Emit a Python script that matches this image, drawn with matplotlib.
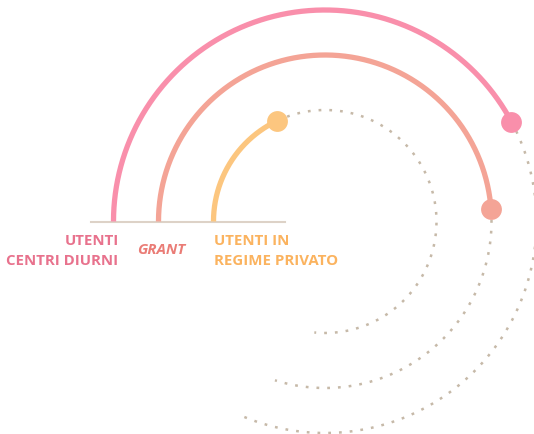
import numpy as np
import matplotlib
matplotlib.use("Agg")
import matplotlib.pyplot as plt

# ---- data ----
categories = ["UTENTI\nCENTRI DIURNI", "GRANT", "UTENTI IN\nREGIME PRIVATO"]
values = [151.8, 175.8, 64.6]          # sweep of the solid arc (degrees, clockwise from left)
track_end = [293.0, 287.5, 275.5]      # sweep where the dotted track stops
radii = [211.5, 166.5, 111.5]
bar_colors = ["#f98fab", "#f4a496", "#fcc67f"]
label_colors = ["#e8728d", "#ea7c76", "#fbb35f"]

W, H = 534, 435
fig = plt.figure(figsize=(W / 100, H / 100), dpi=100)
ax = fig.add_axes([0, 0, 1, 1])
ax.set_xlim(0, W)
ax.set_ylim(H, 0)
ax.axis("off")

cx, cy = 325, 222.5

def arc(r, a0, a1, n=400):
    # angles in degrees measured clockwise from the left (180 deg)
    t = np.radians(180 - np.linspace(a0, a1, n))
    return cx + r * np.cos(t), cy - r * np.sin(t)

for r, v, te, c in zip(radii, values, track_end, bar_colors):
    x, y = arc(r, v, te)
    ax.plot(x, y, color="#c6b9a8", lw=1.8, linestyle=(0, (1.1, 3.2)),
            dash_capstyle="butt", zorder=1)
    x, y = arc(r, 0, v)
    ax.plot(x, y, color=c, lw=3.8, solid_capstyle="butt", zorder=2)
    ax.plot(x[-1], y[-1], "o", ms=15, color=c, mec="none", zorder=3)

# baseline
ax.plot([91, 284.5], [cy, cy], color="#ddd2c7", lw=1.5, zorder=0)

fam = ["Open Sans", "DejaVu Sans"]
ax.text(118.5, 251, categories[0], ha="right", va="center", fontsize=10.8,
        fontweight="bold", color=label_colors[0], family=fam, linespacing=1.5)
ax.text(161, 250, categories[1], ha="center", va="center", fontsize=10.8,
        fontweight="bold", fontstyle="italic", color=label_colors[1], family=fam)
ax.text(214, 251, categories[2], ha="left", va="center", fontsize=10.8,
        fontweight="bold", color=label_colors[2], family=fam, linespacing=1.5)

fig.savefig("out.png", dpi=100)
